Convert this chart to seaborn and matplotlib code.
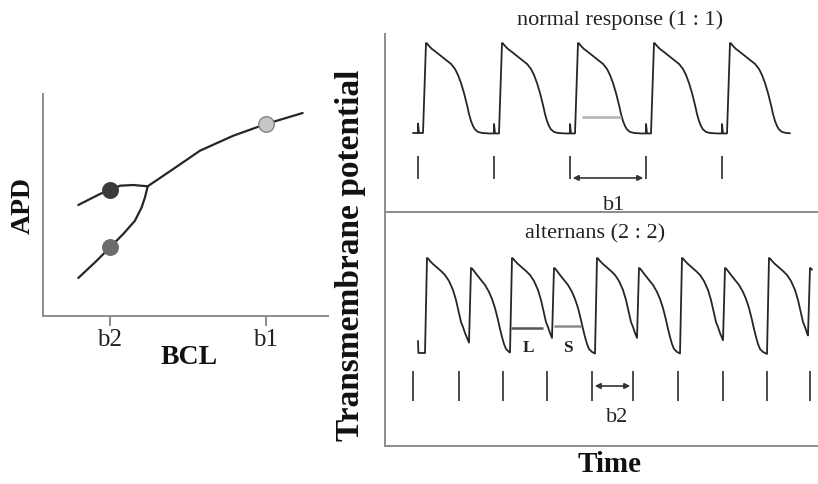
import numpy as np
import matplotlib
matplotlib.use("Agg")
import matplotlib.pyplot as plt
import seaborn as sns

# ---------------- data ----------------
# left panel: restitution curve (BCL in ms, APD in ms, schematic units)
bcl_upper = [187.5, 209.7, 220.0, 230.3, 243.9, 258.7]
apd_upper = [211.0, 222.0, 226.0, 230.3, 231.0, 229.7]
bcl_main = [258.7, 284.9, 312.3, 346.5, 380.0, 417.6]
apd_main = [229.7, 247.0, 265.3, 280.3, 292.0, 303.0]
bcl_lower = [258.7, 255.9, 252.5, 245.6, 233.6, 220.0, 206.4, 187.5]
apd_lower = [229.7, 218.7, 208.7, 195.3, 182.0, 168.7, 155.3, 138.0]
dot_bcl = [220.0, 220.0, 380.0]
dot_apd = [226.0, 168.7, 292.0]
dot_colors = ["#3b3b3b", "#6c6c6c", "#c6c6c6"]
dot_edges = ["#3b3b3b", "#6c6c6c", "#858585"]
bcl_ticks = [220, 380]
bcl_ticklabels = ["b2", "b1"]

# top right: normal response (time in ms, voltage in mV)
normal_stim = [165, 545, 925, 1305, 1685]
normal_onset = [190, 570, 950, 1330, 1710]
ap_t = [0, 15, 20, 30, 45, 65, 90, 115, 140, 160, 175, 190, 205, 220, 230, 240, 250, 260, 275, 295, 330]
ap_v = [-85.0, 30.0, 29.4, 26.2, 22.3, 18.5, 13.4, 8.3, 3.3, -3.2, -10.9, -21.1, -33.9, -49.2,
        -60.7, -69.7, -76.1, -80.5, -83.7, -85.0, -85.6]

# bottom right: alternans
alt_stim = [140, 370, 590, 810, 1035, 1240, 1465, 1690, 1910, 2125]
alt_onset = [200, 420, 625, 835, 1050, 1260, 1475, 1690, 1910, 2115]
alt_kind = ["L", "S", "L", "S", "L", "S", "L", "S", "L", "S"]
apL_t = [0, 10, 15, 25, 40, 60, 80, 100, 120, 140, 155, 170, 180, 190, 200, 210, 225, 240, 260, 280]
apL_v = [-91.4, 30.0, 29.4, 26.2, 22.3, 17.9, 13.4, 8.3, 0.6, -10.9, -23.7, -40.3, -51.8, -58.2,
         -65.9, -72.2, -81.1, -87.5, -91.4, -91.4]
apS_t = [0, 10, 15, 25, 40, 60, 80, 100, 115, 130, 145, 155, 165, 175, 185, 200, 220, 240]
apS_v = [-91.4, 17.2, 16.6, 13.4, 8.3, 1.9, -4.5, -13.4, -22.4, -33.9, -49.2, -60.7, -70.9,
         -79.9, -86.3, -90.1, -92.7, -92.7]

# ---------------- helpers ----------------
def build_trace(onsets, templates, t_start, start_v, t_end, hooks=None, hook_h=0.0):
    t = list(t_start)
    v = list(start_v)
    for i, on in enumerate(onsets):
        tt, vv = templates[i]
        if hooks is not None:
            h = hooks[i]
            base = v[-1]
            t += [h, h, h + 5]
            v += [base, base + hook_h, base]
        t.append(on)
        v.append(v[-1])
        if i + 1 < len(onsets):
            nxt = hooks[i + 1] if hooks is not None else onsets[i + 1]
        else:
            nxt = t_end
        for a, b in zip(tt[1:], vv[1:]):
            if on + a < nxt:
                t.append(on + a)
                v.append(b)
        if on + tt[-1] < nxt:
            t.append(nxt)
            v.append(vv[-1])
        else:
            t.append(nxt)
            v.append(float(np.interp(nxt - on, tt, vv)))
    return t, v


sns.set_theme(style="white")
plt.rcParams["font.family"] = ["Liberation Serif", "DejaVu Serif"]

W, H = 818, 485
fig = plt.figure(figsize=(W / 100, H / 100), dpi=100)

frame_col = "#8c8c8c"
ink = "#222222"

# ---------------- left panel ----------------
axL = fig.add_axes([43 / W, 1 - 317 / H, 285 / W, 222 / H])
for xs, ys in [(bcl_upper, apd_upper), (bcl_main, apd_main), (bcl_lower, apd_lower)]:
    sns.lineplot(x=xs, y=ys, sort=False, estimator=None, ax=axL, color="#262626", lw=1.6)
for bx, by, fc, ec in zip(dot_bcl, dot_apd, dot_colors, dot_edges):
    sns.scatterplot(x=[bx], y=[by], ax=axL, s=125, color=fc, edgecolor=ec, linewidth=1.0, zorder=5)
axL.set_xlim(151.3, 443.6)
axL.set_ylim(100, 322)
axL.set_xticks(bcl_ticks)
axL.set_xticklabels(bcl_ticklabels, fontsize=18, color=ink)
axL.set_yticks([])
axL.tick_params(axis="x", bottom=True, length=7, width=1.4, color=frame_col, direction="out", pad=2)
for s in ["top", "right"]:
    axL.spines[s].set_visible(False)
for s in ["left", "bottom"]:
    axL.spines[s].set_color(frame_col)
    axL.spines[s].set_linewidth(1.4)
axL.set_facecolor("none")
fig.text(189 / W, 1 - 357 / H, "BCL", fontsize=20, fontweight="bold", ha="center", va="center", color="#111111")
fig.text(23 / W, 1 - 206 / H, "APD", fontsize=20, fontweight="bold", ha="center", va="center", rotation=90, color="#111111")

# ---------------- top right panel ----------------
axT = fig.add_axes([385 / W, 1 - 213 / H, 433 / W, 178 / H])
tt, vv = build_trace(normal_onset, [(ap_t, ap_v)] * len(normal_onset), [140], [-85], 2025,
                     hooks=normal_stim, hook_h=12)
sns.lineplot(x=tt, y=vv, sort=False, estimator=None, ax=axT, color="#262626", lw=1.3)
axT.vlines(normal_stim, -143.8, -114.4, color="#4a4a4a", lw=1.4)
axT.plot([985, 1180], [-64.6, -64.6], color="#b8b8b8", lw=2.0, solid_capstyle="butt")
axT.annotate("", xy=(normal_stim[2], -142.5), xytext=(normal_stim[3], -142.5),
             arrowprops=dict(arrowstyle="<|-|>", mutation_scale=8, lw=1.2, color="#333333",
                             shrinkA=2, shrinkB=2))
axT.text(1145, -175.8, "b1", fontsize=16, ha="center", va="center", color=ink)
axT.set_xlim(0, 2165)
axT.set_ylim(-186, 41.5)
axT.set_xticks([])
axT.set_yticks([])
for s in ["top", "right"]:
    axT.spines[s].set_visible(False)
for s in ["left", "bottom"]:
    axT.spines[s].set_color(frame_col)
    axT.spines[s].set_linewidth(1.4)
axT.set_facecolor("none")
fig.text(620 / W, 1 - 20 / H, "normal response (1 : 1)", fontsize=16, ha="center", va="center", color=ink)

# ---------------- bottom right panel ----------------
axB = fig.add_axes([385 / W, 1 - 447 / H, 433 / W, 234 / H])
tmpls = [(apL_t, apL_v) if k == "L" else (apS_t, apS_v) for k in alt_kind]
tb, vb = build_trace(alt_onset, tmpls, [165, 167], [-76, -91.4], 2135)
sns.lineplot(x=tb, y=vb, sort=False, estimator=None, ax=axB, color="#262626", lw=1.3)
axB.vlines(alt_stim, -152.8, -114.4, color="#4a4a4a", lw=1.4)
axB.plot([630, 790], [-59.5, -59.5], color="#555555", lw=1.8, solid_capstyle="butt")
axB.plot([845, 980], [-56.9, -56.9], color="#8a8a8a", lw=1.8, solid_capstyle="butt")
axB.text(715, -83.7, "L", fontsize=12.5, fontweight="bold", ha="center", va="center", color=ink)
axB.text(915, -83.7, "S", fontsize=12.5, fontweight="bold", ha="center", va="center", color=ink)
axB.annotate("", xy=(alt_stim[4], -133.6), xytext=(alt_stim[5], -133.6),
             arrowprops=dict(arrowstyle="<|-|>", mutation_scale=8, lw=1.2, color="#333333",
                             shrinkA=2, shrinkB=2))
axB.text(1160, -172, "b2", fontsize=16, ha="center", va="center", color=ink)
axB.set_xlim(0, 2165)
axB.set_ylim(-210.3, 88.8)
axB.set_xticks([])
axB.set_yticks([])
for s in ["top", "right"]:
    axB.spines[s].set_visible(False)
for s in ["left", "bottom"]:
    axB.spines[s].set_color(frame_col)
    axB.spines[s].set_linewidth(1.4)
axB.set_facecolor("none")
fig.text(595 / W, 1 - 234 / H, "alternans (2 : 2)", fontsize=16, ha="center", va="center", color=ink)

fig.text(351 / W, 1 - 255 / H, "Transmembrane potential", fontsize=24, fontweight="bold",
         ha="center", va="center", rotation=90, color="#111111")
fig.text(610 / W, 1 - 465 / H, "Time", fontsize=21, fontweight="bold", ha="center", va="center", color="#111111")

fig.savefig("out.png", dpi=100, facecolor="white")
